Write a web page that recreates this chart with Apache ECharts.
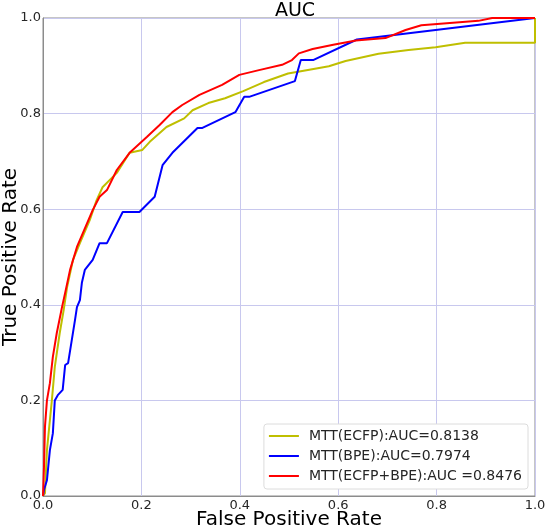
<!DOCTYPE html>
<html>
<head>
<meta charset="utf-8">
<script src="https://cdn.jsdelivr.net/npm/echarts@6/dist/echarts.min.js"></script>
<style>html,body{margin:0;padding:0;background:#fff}#chart{width:545px;height:530px}</style>
</head>
<body>
<div id="chart"></div>
<script>
var seriesNames = ['MTT(ECFP):AUC=0.8138', 'MTT(BPE):AUC=0.7974', 'MTT(ECFP+BPE):AUC =0.8476'];
var tickValues = [0, 0.2, 0.4, 0.6, 0.8, 1.0];

var ecfpFpr = [0,0.004,0.008,0.018,0.024,0.034,0.042,0.049,0.061,0.075,0.095,0.109,0.121,0.150,0.176,0.202,0.217,0.251,0.287,0.304,0.336,0.370,0.407,0.449,0.498,0.547,0.581,0.615,0.682,0.743,0.798,0.858,1.0,1.0];
var ecfpTpr = [0,0.006,0.096,0.200,0.270,0.341,0.389,0.437,0.494,0.529,0.577,0.619,0.646,0.676,0.718,0.724,0.741,0.772,0.790,0.807,0.822,0.832,0.847,0.866,0.884,0.893,0.899,0.910,0.925,0.933,0.939,0.948,0.948,1.0];

var bpeFpr = [0,0.002,0.008,0.014,0.020,0.024,0.030,0.040,0.045,0.051,0.065,0.069,0.075,0.079,0.085,0.101,0.115,0.130,0.162,0.196,0.227,0.243,0.263,0.314,0.324,0.391,0.409,0.419,0.512,0.524,0.549,0.638,1.0];
var bpeTpr = [0,0.013,0.033,0.096,0.131,0.200,0.211,0.222,0.274,0.278,0.368,0.395,0.410,0.446,0.473,0.494,0.529,0.529,0.594,0.594,0.626,0.692,0.718,0.770,0.770,0.803,0.835,0.835,0.868,0.912,0.912,0.955,1.0];

var bothFpr = [0,0.002,0.004,0.008,0.014,0.020,0.028,0.038,0.045,0.055,0.069,0.081,0.101,0.115,0.130,0.150,0.176,0.211,0.237,0.263,0.283,0.318,0.364,0.399,0.439,0.486,0.506,0.520,0.548,0.590,0.636,0.696,0.737,0.769,0.885,0.913,1.0];
var bothTpr = [0,0.060,0.145,0.200,0.236,0.291,0.341,0.392,0.425,0.473,0.521,0.550,0.598,0.626,0.640,0.682,0.718,0.751,0.776,0.803,0.818,0.839,0.860,0.881,0.891,0.902,0.912,0.926,0.935,0.944,0.953,0.958,0.975,0.985,0.994,1.0,1.0];

function pairs(xs, ys) { return xs.map(function (x, i) { return [x, ys[i]]; }); }

var FONT = '"DejaVu Sans", sans-serif';
var chart = echarts.init(document.getElementById('chart'), null, {renderer: 'canvas'});

function axisCommon(name, gap, margin) {
  return {
    type: 'value', min: 0, max: 1, interval: 0.2,
    name: name, nameLocation: 'middle', nameGap: gap, nameMoveOverlap: false,
    nameTextStyle: {fontFamily: FONT, fontSize: 20, color: '#000'},
    axisLine: {show: true, lineStyle: {color: '#8c8c8c', width: 1}},
    axisTick: {show: false},
    axisLabel: {fontFamily: FONT, fontSize: 13, color: '#262626', margin: margin,
      formatter: function (v) { return v.toFixed(1); }},
    splitLine: {show: true, lineStyle: {color: '#c8c8ee', width: 1}}
  };
}

var xAx = axisCommon('False Positive Rate', 14, 3);
var yAx = axisCommon('True Positive Rate', 22, 2);

chart.setOption({
  animation: false,
  title: {text: 'AUC', left: 290, top: -3, textAlign: 'center',
    textStyle: {fontFamily: FONT, fontSize: 19, fontWeight: 'normal', color: '#000'}},
  grid: {left: 43, right: 10, top: 18, bottom: 34, show: true, borderColor: '#8c8c8c', borderWidth: 1,
    containLabel: false, outerBoundsMode: 'none'},
  xAxis: xAx,
  yAxis: yAx,
  legend: {
    orient: 'vertical', right: 17, bottom: 41,
    backgroundColor: '#fff', borderColor: '#dcdcdc', borderWidth: 1, borderRadius: 3,
    padding: [5, 6, 6, 5], itemGap: 6, itemWidth: 30, itemHeight: 2, icon: 'rect',
    textStyle: {fontFamily: FONT, fontSize: 14, color: '#262626', lineHeight: 14, padding: [0, 0, 0, 5]},
    data: seriesNames
  },
  series: [
    {name: seriesNames[0], type: 'line', data: pairs(ecfpFpr, ecfpTpr), showSymbol: false, color: '#bfbf00', lineStyle: {width: 2}, z: 2},
    {name: seriesNames[1], type: 'line', data: pairs(bpeFpr, bpeTpr), showSymbol: false, color: '#0000ff', lineStyle: {width: 2}, z: 3},
    {name: seriesNames[2], type: 'line', data: pairs(bothFpr, bothTpr), showSymbol: false, color: '#ff0000', lineStyle: {width: 2}, z: 4}
  ]
});
</script>
</body>
</html>
